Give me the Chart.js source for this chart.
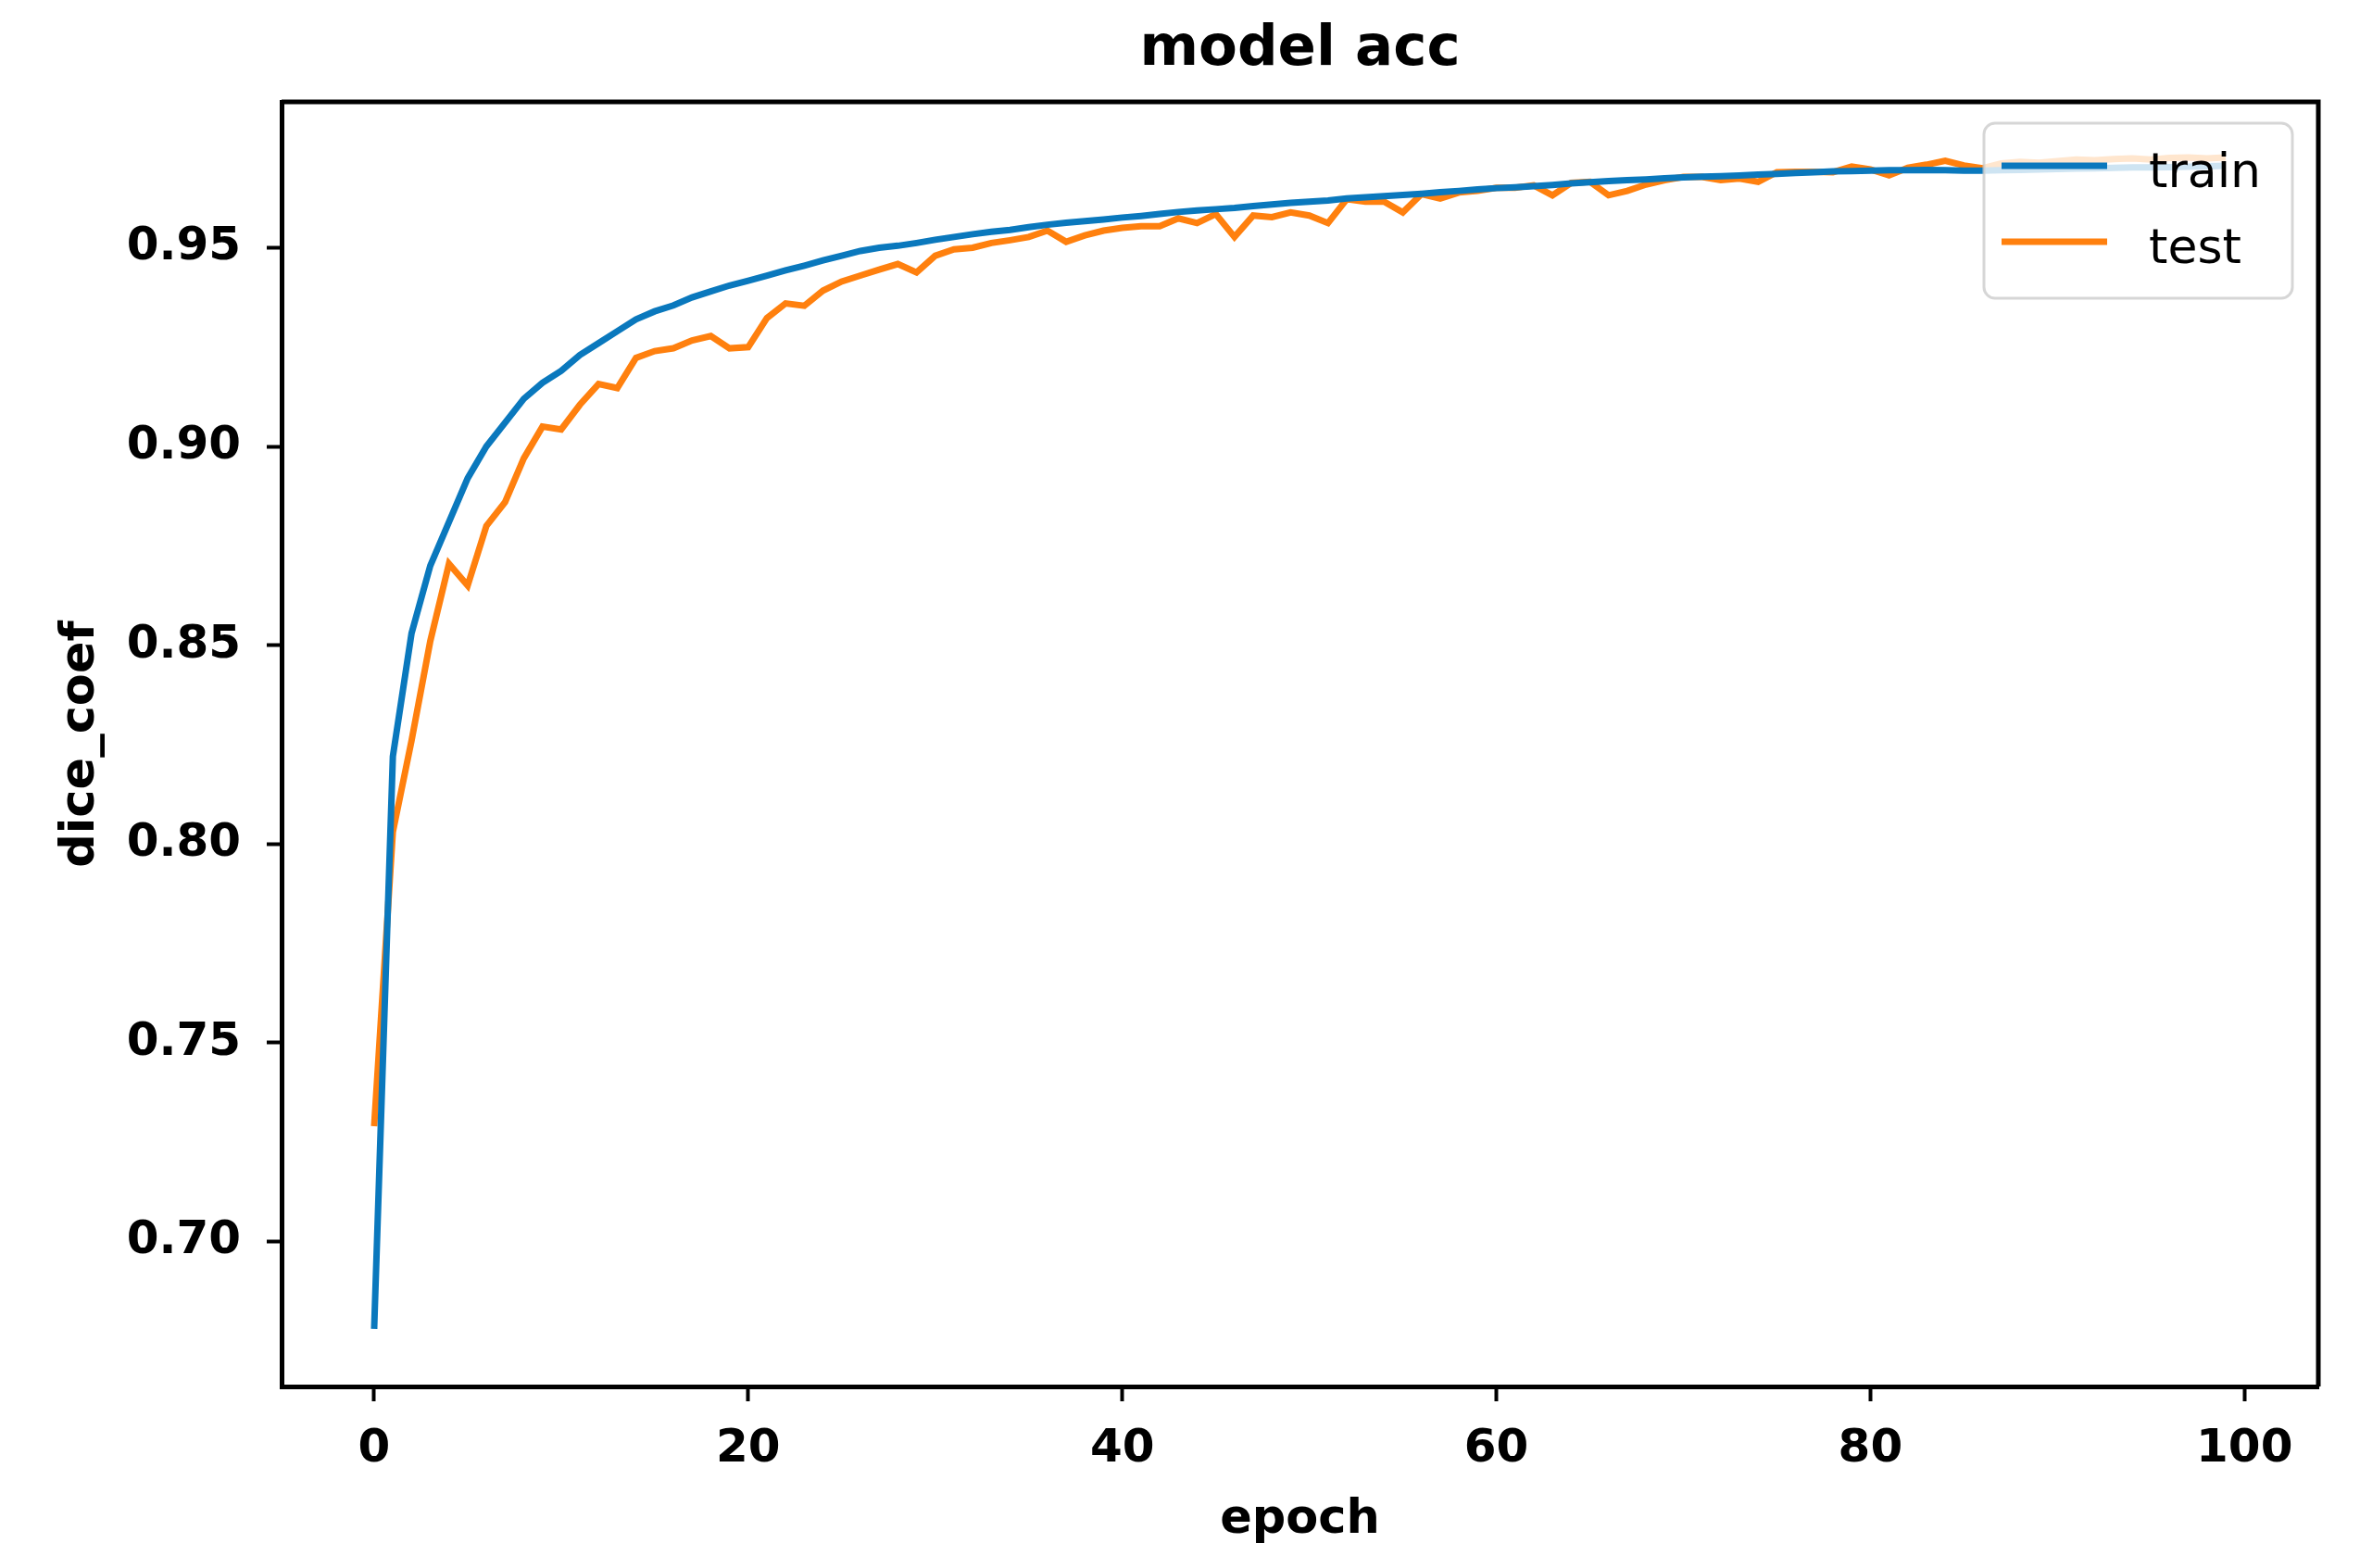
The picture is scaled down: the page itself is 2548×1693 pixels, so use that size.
<!DOCTYPE html>
<html>
<head>
<meta charset="utf-8">
<title>model acc</title>
<script src="https://cdn.jsdelivr.net/npm/chart.js@4.4.1/dist/chart.umd.min.js"></script>
<style>
  html, body { margin: 0; padding: 0; background: #fff; }
  #wrap { width: 2548px; height: 1693px; position: relative; }
</style>
</head>
<body>
<div id="wrap"><canvas id="acc-chart"></canvas></div>
<script>
// epochs 0..99
var epochs = [];
for (var i = 0; i < 100; i++) epochs.push(i);

// dice_coef on the training set
var trainAcc = [
  0.678, 0.822, 0.853, 0.870, 0.881, 0.892, 0.900, 0.906, 0.912, 0.916,
  0.919, 0.923, 0.926, 0.929, 0.932, 0.934, 0.9355, 0.9375, 0.939, 0.9405,
  0.9417, 0.943, 0.9443, 0.9455, 0.9468, 0.948, 0.9492, 0.950, 0.9505, 0.9512,
  0.952, 0.9527, 0.9534, 0.954, 0.9545, 0.9552, 0.9558, 0.9563, 0.9567, 0.9571,
  0.9576, 0.958, 0.9585, 0.959, 0.9594, 0.9597, 0.960, 0.9605, 0.9609, 0.9613,
  0.9616, 0.9619, 0.9624, 0.9627, 0.963, 0.9633, 0.9636, 0.964, 0.9643, 0.9647,
  0.965, 0.9652, 0.9655, 0.9658, 0.9662, 0.9665, 0.9668, 0.967, 0.9672, 0.9675,
  0.9677, 0.9679, 0.968, 0.9682, 0.9684, 0.9686, 0.9688, 0.969, 0.9692, 0.9693,
  0.9694, 0.9695, 0.9695, 0.9696, 0.9695, 0.9694, 0.9694, 0.9695, 0.9696, 0.9697,
  0.9698, 0.9699, 0.970, 0.9701, 0.9702, 0.9702, 0.9703, 0.9704, 0.9705, 0.9706
];

// dice_coef on the test set
var testAcc = [
  0.729, 0.803, 0.826, 0.851, 0.8705, 0.865, 0.880, 0.886, 0.897, 0.905,
  0.9043, 0.9105, 0.9157, 0.9147, 0.9223, 0.924, 0.9247, 0.9267, 0.9278, 0.9247,
  0.925, 0.9323, 0.936, 0.9354, 0.9392, 0.9415, 0.943, 0.9445, 0.9459, 0.9438,
  0.948, 0.9496, 0.950, 0.9512, 0.9519, 0.9527, 0.9543, 0.9515, 0.9531, 0.9543,
  0.955, 0.9554, 0.9554, 0.9574, 0.9562, 0.9585, 0.9527, 0.9581, 0.9577, 0.9589,
  0.9581, 0.9562, 0.9622, 0.9616, 0.9616, 0.9589, 0.9635, 0.9624, 0.9639, 0.9643,
  0.9651, 0.9651, 0.9657, 0.9632, 0.9663, 0.9666, 0.9632, 0.9643, 0.9659, 0.967,
  0.9678, 0.9678, 0.967, 0.9674, 0.9666, 0.969, 0.9691, 0.9691, 0.969, 0.9704,
  0.9697, 0.9682, 0.9701, 0.9709, 0.9719, 0.9707, 0.970, 0.9712, 0.9716, 0.9714,
  0.9718, 0.9722, 0.972, 0.9723, 0.9725, 0.9722, 0.9726, 0.9727, 0.9725, 0.9727
];

var seriesNames = ["train", "test"];
var xTicks = [0, 20, 40, 60, 80, 100];
var yTicks = [0.70, 0.75, 0.80, 0.85, 0.90, 0.95];
var titleText = "model acc";

var FONT = "'DejaVu Sans', 'Liberation Sans', sans-serif";

// top and right spines, plus the title centred over the axes like matplotlib
var framePlugin = {
  id: 'frame',
  afterDraw: function (chart) {
    var a = chart.chartArea, ctx = chart.ctx;
    ctx.save();
    ctx.strokeStyle = '#000';
    ctx.lineWidth = 5;
    ctx.beginPath();
    ctx.moveTo(a.left, a.top);
    ctx.lineTo(a.right, a.top);
    ctx.lineTo(a.right, a.bottom);
    ctx.stroke();
    ctx.fillStyle = '#000';
    ctx.font = 'bold 61px ' + FONT;
    ctx.textAlign = 'center';
    ctx.textBaseline = 'middle';
    ctx.fillText(titleText, (a.left + a.right) / 2, a.top - 56);
    ctx.restore();
  }
};

// matplotlib-style legend box, upper right inside the axes
var boxLegend = {
  id: 'boxLegend',
  afterDatasetsDraw: function (chart) {
    var a = chart.chartArea, ctx = chart.ctx;
    var w = 333, h = 189, r = 12;
    var x = a.right - 28 - w, y = a.top + 23;
    ctx.save();
    ctx.beginPath();
    ctx.roundRect(x, y, w, h, r);
    ctx.fillStyle = 'rgba(255,255,255,0.8)';
    ctx.fill();
    ctx.lineWidth = 3;
    ctx.strokeStyle = 'rgba(204,204,204,0.8)';
    ctx.stroke();
    ctx.font = '52px ' + FONT;
    ctx.textBaseline = 'middle';
    ctx.fillStyle = '#000';
    chart.data.datasets.forEach(function (ds, k) {
      var ly = y + 46 + k * 82;
      ctx.strokeStyle = ds.borderColor;
      ctx.lineWidth = 7;
      ctx.beginPath();
      ctx.moveTo(x + 19, ly);
      ctx.lineTo(x + 133, ly);
      ctx.stroke();
      ctx.fillText(ds.label, x + 178, ly + 9);
    });
    ctx.restore();
  }
};

var ctxAcc = document.getElementById('acc-chart').getContext('2d');

var accChart = new Chart(ctxAcc, {
  type: 'line',
  data: {
    labels: epochs,
    datasets: [{
      label: seriesNames[0],
      data: trainAcc,
      borderColor: '#0a78bd',
      borderWidth: 7,
      pointRadius: 0,
      tension: 0,
      fill: false
    }, {
      label: seriesNames[1],
      data: testAcc,
      borderColor: '#ff800e',
      borderWidth: 7,
      pointRadius: 0,
      tension: 0,
      fill: false
    }]
  },
  options: {
    responsive: true,
    maintainAspectRatio: false,
    animation: false,
    devicePixelRatio: 1,
    layout: { padding: { left: 0, right: 45, top: 110, bottom: 0 } },
    plugins: {
      legend: { display: false },
      tooltip: { enabled: false },
      title: { display: false }
    },
    scales: {
      x: {
        type: 'linear',
        min: -4.95,
        max: 103.95,
        afterBuildTicks: function (scale) {
          scale.ticks = xTicks.map(function (v) { return { value: v }; });
        },
        afterFit: function (scale) { scale.height = 196; },
        ticks: {
          color: '#000',
          padding: 22,
          maxRotation: 0,
          font: { family: FONT, size: 50, weight: 'bold' },
          callback: function (v) { return String(v); }
        },
        grid: {
          drawOnChartArea: false,
          drawTicks: true,
          tickLength: 16,
          tickWidth: 4,
          tickColor: '#000'
        },
        border: { display: true, color: '#000', width: 5 },
        title: {
          display: true,
          text: 'epoch',
          color: '#000',
          font: { family: FONT, size: 51, weight: 'bold', lineHeight: 1.2 },
          padding: { top: 0, bottom: 21 }
        }
      },
      y: {
        type: 'linear',
        min: 0.6635,
        max: 0.9867,
        afterBuildTicks: function (scale) {
          scale.ticks = yTicks.map(function (v) { return { value: v }; });
        },
        afterFit: function (scale) { scale.width = 304; },
        ticks: {
          color: '#000',
          padding: 28,
          font: { family: FONT, size: 50, weight: 'bold' },
          callback: function (v) { return Number(v).toFixed(2); }
        },
        grid: {
          drawOnChartArea: false,
          drawTicks: true,
          tickLength: 16,
          tickWidth: 4,
          tickColor: '#000'
        },
        border: { display: true, color: '#000', width: 5 },
        title: {
          display: true,
          text: 'dice_coef',
          color: '#000',
          font: { family: FONT, size: 51, weight: 'bold', lineHeight: 1.2 },
          padding: { top: 57, bottom: 0 }
        }
      }
    }
  },
  plugins: [framePlugin, boxLegend]
});
</script>
</body>
</html>
